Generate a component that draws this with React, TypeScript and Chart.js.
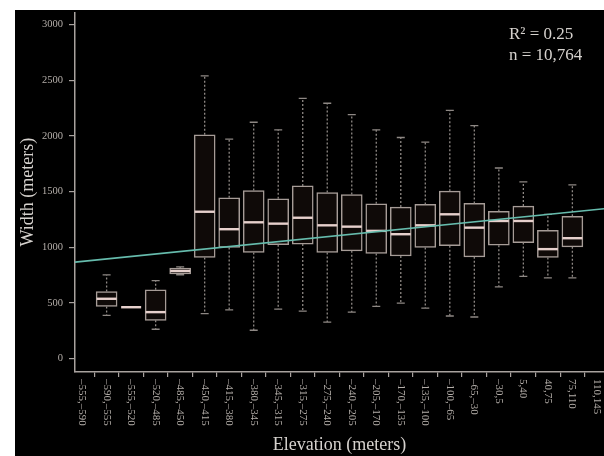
import React, { useEffect, useRef } from 'react';
import { Chart, registerables } from 'chart.js';

Chart.register(...registerables);

const categories = [
  '–555,–590', '–590,–555', '–555,–520', '–520,–485', '–485,–450', '–450,–415',
  '–415,–380', '–380,–345', '–345,–315', '–315,–275', '–275,–240', '–240,–205',
  '–205,–170', '–170,–135', '–135,–100', '–100,–65', '–65,–30', '–30,5',
  '5,40', '40,75', '75,110', '110,145',
];
const whiskerLow = [null, 387, 460, 262, 752, 402, 437, 253, 443, 425, 327, 416, 467, 497, 452, 381, 372, 643, 738, 723, 723, null];
const q1 = [null, 467, 460, 342, 759, 907, 997, 952, 1021, 1027, 952, 967, 943, 920, 997, 1012, 913, 1018, 1041, 907, 1003, null];
const median = [null, 536, 460, 416, 786, 1318, 1161, 1223, 1211, 1264, 1196, 1184, 1146, 1116, 1196, 1295, 1175, 1235, 1235, 982, 1080, null];
const q3 = [null, 601, 460, 616, 812, 2009, 1443, 1509, 1434, 1550, 1491, 1473, 1389, 1360, 1384, 1503, 1393, 1321, 1369, 1152, 1277, null];
const whiskerHigh = [null, 750, 460, 699, 822, 2538, 1970, 2122, 2054, 2336, 2293, 2190, 2054, 1985, 1943, 2229, 2092, 1711, 1586, 1295, 1559, null];
const yTickValues = [0, 500, 1000, 1500, 2000, 2500, 3000];
const regressionEnds = [865, 1345];
const statsLines = ['R² = 0.25', 'n = 10,764'];
const xTitle = 'Elevation (meters)';
const yTitle = 'Width (meters)';

const X_MIN = -0.29;
const X_MAX = 21.29;
const Y_MIN = -122;
const Y_MAX = 3110;

const SERIF = "'Liberation Serif', 'Times New Roman', serif";
const AXIS_COLOR = '#a8a29e';
const TICK_TEXT = '#b4aea9';
const TITLE_TEXT = '#d6d2ce';

const boxPlugin = {
  id: 'boxParts',
  beforeDraw(chart: any) {
    const ctx = chart.ctx;
    ctx.save();
    ctx.fillStyle = '#ffffff';
    ctx.fillRect(0, 0, chart.width, chart.height);
    ctx.fillStyle = '#000000';
    ctx.fillRect(15, 10, chart.width - 15, chart.height - 10);
    ctx.restore();
  },
  afterDatasetDraw(chart: any, args: any) {
    if (args.index !== 0) return;
    const ctx = chart.ctx;
    const xs = chart.scales.x;
    const ys = chart.scales.y;
    ctx.save();
    for (let i = 0; i < categories.length; i++) {
      if (median[i] == null) continue;
      const cx = xs.getPixelForValue(i);
      const yLo = ys.getPixelForValue(whiskerLow[i]);
      const yQ1 = ys.getPixelForValue(q1[i]);
      const yQ3 = ys.getPixelForValue(q3[i]);
      const yHi = ys.getPixelForValue(whiskerHigh[i]);
      const yMed = ys.getPixelForValue(median[i]);
      ctx.strokeStyle = '#8e8884';
      ctx.lineWidth = 1.3;
      ctx.setLineDash([2, 2]);
      ctx.beginPath();
      if (yHi < yQ3 - 1) { ctx.moveTo(cx, yQ3); ctx.lineTo(cx, yHi); }
      if (yLo > yQ1 + 1) { ctx.moveTo(cx, yQ1); ctx.lineTo(cx, yLo); }
      ctx.stroke();
      ctx.setLineDash([]);
      ctx.beginPath();
      ctx.moveTo(cx - 4, yHi); ctx.lineTo(cx + 4, yHi);
      ctx.moveTo(cx - 4, yLo); ctx.lineTo(cx + 4, yLo);
      ctx.stroke();
      ctx.strokeStyle = '#e6d0cc';
      ctx.lineWidth = 2.4;
      ctx.beginPath();
      ctx.moveTo(cx - 10, yMed); ctx.lineTo(cx + 10, yMed);
      ctx.stroke();
    }
    ctx.restore();
  },
  afterDraw(chart: any) {
    const ctx = chart.ctx;
    const xs = chart.scales.x;
    const bottom = chart.chartArea.bottom;
    ctx.save();
    ctx.fillStyle = TICK_TEXT;
    ctx.font = `11px ${SERIF}`;
    ctx.textAlign = 'left';
    ctx.textBaseline = 'middle';
    for (let i = 0; i < categories.length; i++) {
      const x = xs.getPixelForValue(i);
      ctx.save();
      ctx.translate(x, bottom + 7);
      ctx.rotate(Math.PI / 2);
      ctx.fillText(categories[i], 0, 0);
      ctx.restore();
    }
    ctx.fillStyle = TITLE_TEXT;
    ctx.font = `17px ${SERIF}`;
    ctx.textBaseline = 'alphabetic';
    ctx.fillText(statsLines[0], 509, 38.5);
    ctx.fillText(statsLines[1], 509, 60);
    ctx.restore();
  },
};

export default function App() {
  const canvasRef = useRef<HTMLCanvasElement | null>(null);

  useEffect(() => {
    const canvas = canvasRef.current;
    if (!canvas) return;
    const boxData: any[] = [];
    for (let i = 0; i < categories.length; i++) {
      if (q1[i] == null) continue;
      boxData.push({ x: i, y: [q1[i], q3[i]] });
    }
    const chart = new Chart(canvas, {
      type: 'bar',
      data: {
        datasets: [
          {
            type: 'bar',
            data: boxData,
            backgroundColor: '#0f0a08',
            borderColor: '#a69c97',
            borderWidth: 1.5,
            borderSkipped: false,
            barThickness: 21,
            order: 2,
          } as any,
          {
            type: 'line',
            data: [
              { x: X_MIN, y: regressionEnds[0] },
              { x: X_MAX, y: regressionEnds[1] },
            ],
            borderColor: '#66bcad',
            borderWidth: 1.6,
            pointRadius: 0,
            fill: false,
            order: 1,
          } as any,
        ],
      },
      options: {
        animation: false,
        responsive: false,
        devicePixelRatio: 1,
        layout: { padding: { top: 10, left: 0, right: 0, bottom: 0 } },
        plugins: { legend: { display: false }, tooltip: { enabled: false } },
        scales: {
          x: {
            type: 'linear',
            min: X_MIN,
            max: X_MAX,
            offset: false,
            ticks: { display: false },
            afterBuildTicks: (s: any) => { s.ticks = categories.map((_, i) => ({ value: i })); },
            grid: { drawOnChartArea: false, drawTicks: true, tickLength: 5, color: AXIS_COLOR, lineWidth: 1.2 },
            border: { display: true, color: AXIS_COLOR, width: 1.5 },
            title: {
              display: true,
              text: xTitle,
              color: TITLE_TEXT,
              font: { family: SERIF, size: 18 },
              padding: { top: 0, bottom: 0 },
            },
            afterFit: (s: any) => { s.height = 84; },
          },
          y: {
            type: 'linear',
            min: Y_MIN,
            max: Y_MAX,
            afterBuildTicks: (s: any) => { s.ticks = yTickValues.map((v) => ({ value: v })); },
            ticks: {
              color: TICK_TEXT,
              font: { family: SERIF, size: 10.5 },
              padding: 6,
              callback: (v: any) => String(v),
            },
            grid: { drawOnChartArea: false, drawTicks: true, tickLength: 6, color: AXIS_COLOR, lineWidth: 1.2 },
            border: { display: true, color: AXIS_COLOR, width: 1.5 },
            title: {
              display: true,
              text: yTitle,
              color: TITLE_TEXT,
              font: { family: SERIF, size: 18 },
              padding: { top: 17, bottom: 0 },
            },
            afterFit: (s: any) => { s.width = 75; },
          },
        },
      } as any,
      plugins: [boxPlugin],
    });
    return () => chart.destroy();
  }, []);

  return (
    <div style={{ position: 'absolute', left: 0, top: 0, width: 604, height: 456 }}>
      <canvas ref={canvasRef} width={604} height={456} style={{ width: 604, height: 456, display: 'block' }} />
    </div>
  );
}
